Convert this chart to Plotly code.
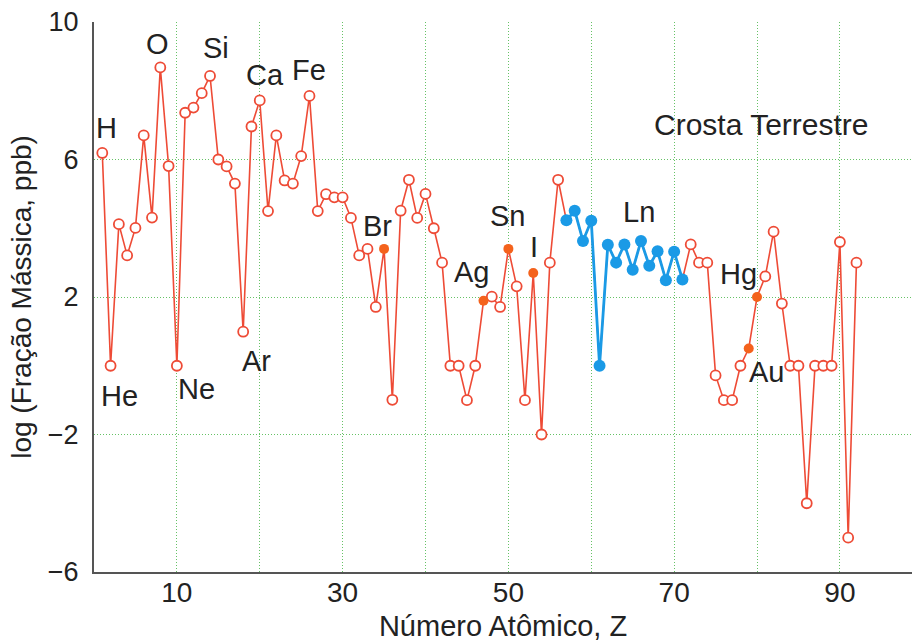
import plotly.graph_objects as go

# ---- data ----
atomic_number = list(range(1, 93))
log_mass_fraction = [
    6.19, 0.0, 4.12, 3.21, 4.01, 6.70, 4.31, 8.68, 5.81, 0.0,      # 1-10
    7.36, 7.51, 7.93, 8.43, 6.00, 5.80, 5.30, 0.99, 6.96, 7.72,    # 11-20
    4.50, 6.70, 5.39, 5.30, 6.10, 7.85, 4.50, 4.99, 4.90, 4.90,    # 21-30
    4.30, 3.21, 3.40, 1.71, 3.40, -0.99, 4.51, 5.41, 4.30, 5.00,   # 31-40
    4.00, 3.00, 0.0, 0.0, -1.0, 0.0, 1.89, 2.01, 1.71, 3.40,       # 41-50
    2.31, -1.0, 2.70, -2.0, 3.00, 5.41, 4.23, 4.51, 3.63, 4.22,    # 51-60
    0.0, 3.52, 3.00, 3.53, 2.79, 3.63, 2.91, 3.33, 2.49, 3.32,     # 61-70
    2.51, 3.53, 3.00, 3.00, -0.28, -1.0, -1.0, 0.0, 0.50, 2.00,    # 71-80
    2.60, 3.90, 1.81, 0.0, 0.0, -4.0, 0.0, 0.0, 0.0, 3.60,         # 81-90
    -5.0, 3.00,                                                    # 91-92
]
lanthanides = list(range(57, 72))
highlighted = [35, 47, 50, 53, 79, 80]  # Br, Ag, Sn, I, Au, Hg

label_text = ["H", "He", "O", "Ne", "Si", "Ar", "Ca", "Fe", "Br", "Ag",
              "Sn", "I", "Ln", "Hg", "Au", "Crosta Terrestre"]

x_ticks = [10, 20, 30, 40, 50, 60, 70, 80, 90]
x_ticktext = ["10", "", "30", "", "50", "", "70", "", "90"]
y_ticks = [-6, -2, 2, 6, 10]
y_ticktext = ["\u22126", "\u22122", "2", "6", "10"]

# ---- styling / label positions ----
RED = "#ee4b36"
ORANGE = "#f4621c"
BLUE = "#1a9ae6"
GRID = "#66c266"
TXT = "#222222"
FONT = "Liberation Sans, Arial, sans-serif"

label_pos = [(1.51, 6.92), (3.08, -0.87), (7.68, 9.36), (12.37, -0.67),
             (14.67, 9.24), (19.6, 0.15), (20.6, 8.46), (26.0, 8.60),
             (34.2, 4.07), (45.6, 2.73), (49.9, 4.36), (53.05, 3.46),
             (65.8, 4.48), (77.8, 2.67), (81.1, -0.17), (80.6, 7.03)]
label_size = [29] * 15 + [30]

val = dict(zip(atomic_number, log_mass_fraction))

fig = go.Figure()

# red line across all elements
fig.add_trace(go.Scatter(
    x=atomic_number, y=log_mass_fraction, mode="lines",
    line=dict(color=RED, width=1.6), hoverinfo="skip", showlegend=False))

# open red circles (non lanthanide, non highlighted)
open_z = [z for z in atomic_number if z not in lanthanides and z not in highlighted]
fig.add_trace(go.Scatter(
    x=open_z, y=[val[z] for z in open_z], mode="markers",
    marker=dict(symbol="circle", size=10, color="white",
                line=dict(color=RED, width=1.8)),
    showlegend=False))

# highlighted filled orange
fig.add_trace(go.Scatter(
    x=highlighted, y=[val[z] for z in highlighted], mode="markers",
    marker=dict(symbol="circle", size=10, color=ORANGE,
                line=dict(color=ORANGE, width=0)),
    showlegend=False))

# lanthanides blue
fig.add_trace(go.Scatter(
    x=lanthanides, y=[val[z] for z in lanthanides], mode="lines+markers",
    line=dict(color=BLUE, width=2.8),
    marker=dict(symbol="circle", size=12, color=BLUE),
    showlegend=False))

for t, (lx, ly), fs in zip(label_text, label_pos, label_size):
    fig.add_annotation(x=lx, y=ly, text=t, showarrow=False,
                       xanchor="center", yanchor="middle",
                       font=dict(family=FONT, size=fs, color=TXT))

fig.update_layout(
    width=914, height=642,
    margin=dict(l=94, r=2, t=22, b=70),
    plot_bgcolor="white", paper_bgcolor="white",
    font=dict(family=FONT, color=TXT),
)
fig.update_xaxes(
    range=[0, 98.7], tickvals=x_ticks, ticktext=x_ticktext,
    showgrid=True, gridcolor=GRID, gridwidth=1.2, griddash="1px,2px",
    showline=True, linecolor="#555555", linewidth=2,
    ticks="", ticklabelstandoff=-6, zeroline=False, automargin=False,
    tickfont=dict(family=FONT, size=28, color=TXT),
    title=dict(text="Número Atômico, Z", standoff=9,
               font=dict(family=FONT, size=29, color=TXT)),
)
fig.update_yaxes(
    range=[-6, 10], tickvals=y_ticks, ticktext=y_ticktext,
    showgrid=True, gridcolor=GRID, gridwidth=1.2, griddash="1px,2px",
    showline=True, linecolor="#555555", linewidth=2,
    ticks="", ticklabelstandoff=8, zeroline=False, automargin=False,
    tickfont=dict(family=FONT, size=27, color=TXT),
    title=dict(text="log (Fração Mássica, ppb)", standoff=8,
               font=dict(family=FONT, size=28, color=TXT)),
)

fig.write_html("out.html")
